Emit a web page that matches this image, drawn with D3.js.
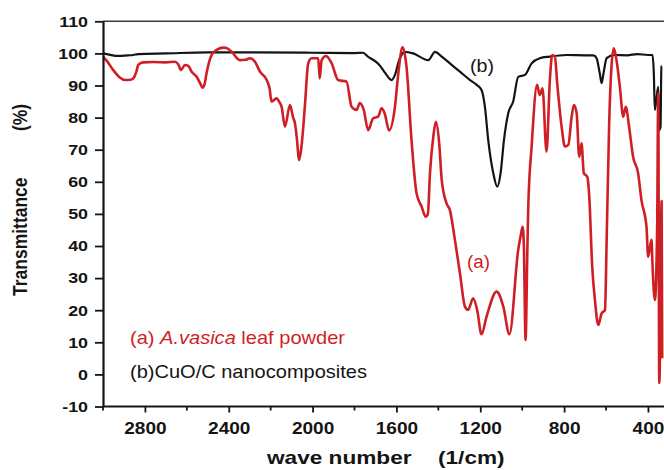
<!DOCTYPE html>
<html>
<head>
<meta charset="utf-8">
<script src="https://cdn.jsdelivr.net/npm/d3@7"></script>
<style>
  html, body { margin: 0; padding: 0; background: #fff; }
  svg { display: block; }
  text { font-family: "Liberation Sans", Arial, sans-serif; }
</style>
</head>
<body>
<svg id="chart" width="664" height="470"></svg>
<script>
// FTIR spectra: wavenumber (1/cm) and transmittance (%)
const leafWave = [3000, 2980, 2951, 2920, 2895, 2870, 2856, 2840, 2832, 2808, 2760, 2700, 2657, 2640, 2628, 2609, 2593, 2577, 2553, 2535, 2525, 2515, 2506, 2482, 2458, 2424, 2405, 2386, 2347, 2320, 2299, 2275, 2251, 2219, 2205, 2196, 2172, 2160, 2148, 2132, 2108, 2092, 2084, 2076, 2064, 2053, 2037, 2021, 2005, 1973, 1966, 1957, 1936, 1909, 1878, 1838, 1814, 1790, 1775, 1756, 1735, 1711, 1687, 1671, 1656, 1635, 1607, 1591, 1571, 1552, 1528, 1504, 1480, 1460, 1450, 1440, 1424, 1412, 1396, 1384, 1361, 1345, 1321, 1297, 1273, 1258, 1234, 1215, 1194, 1170, 1122, 1090, 1061, 1019, 1005, 998, 992, 984, 975, 971, 955, 929, 916, 903, 884, 868, 857, 844, 833, 812, 796, 780, 764, 753, 740, 728, 717, 706, 690, 680, 666, 653, 637, 621, 605, 597, 585, 574, 563, 550, 534, 518, 506, 490, 471, 447, 431, 407, 399, 383, 378, 367, 356, 351, 346, 340, 335, 332];
const leafT = [99.0, 97.5, 94.8, 92.5, 91.7, 91.8, 92.2, 94.5, 96.4, 97.2, 97.3, 97.2, 97.4, 96.5, 94.8, 96.4, 96.1, 94.3, 92.7, 90.5, 89.3, 90.5, 93.8, 99.5, 101.1, 101.8, 101.5, 100.5, 97.9, 98.0, 98.5, 97.4, 94.3, 91.7, 89.0, 85.0, 86.0, 85.0, 83.4, 77.2, 83.9, 79.8, 78.2, 74.1, 66.8, 71.0, 83.4, 96.9, 98.5, 98.5, 92.2, 97.9, 99.2, 96.9, 91.7, 91.2, 83.4, 82.4, 84.5, 82.4, 76.1, 79.8, 80.3, 82.9, 81.3, 76.0, 83.4, 93.8, 101.9, 95.9, 73.0, 56.4, 52.3, 49.1, 50.0, 62.7, 74.1, 78.7, 72.0, 60.6, 53.3, 51.2, 41.9, 31.5, 21.1, 20.1, 23.7, 20.1, 12.5, 18.0, 25.8, 21.1, 12.5, 38.8, 44.0, 46.0, 40.0, 10.7, 40.0, 52.3, 71.0, 90.2, 87.0, 89.1, 69.4, 91.7, 99.5, 99.0, 90.7, 77.2, 71.0, 71.5, 80.3, 83.9, 81.3, 67.8, 72.0, 62.7, 61.6, 55.4, 33.6, 23.2, 15.4, 19.0, 20.1, 41.9, 78.2, 95.9, 101.6, 97.9, 89.6, 80.3, 83.4, 77.2, 67.8, 62.7, 54.3, 46.0, 36.7, 41.9, 33.6, 23.2, 46.0, 87.6, -2.7, 20.0, 54.0, 5.0];

const compositeWave = [3000, 2970, 2928, 2880, 2856, 2832, 2700, 2500, 2300, 2000, 1800, 1759, 1736, 1700, 1679, 1655, 1623, 1607, 1587, 1560, 1520, 1448, 1416, 1384, 1345, 1297, 1249, 1217, 1194, 1178, 1162, 1138, 1119, 1103, 1087, 1066, 1043, 1019, 987, 955, 916, 870, 789, 700, 660, 645, 630, 621, 612, 597, 560, 500, 450, 400, 378, 372, 367, 360, 351, 346, 340, 336, 333];
const compositeT = [100.0, 99.6, 99.2, 99.4, 99.5, 99.8, 100.0, 100.3, 100.3, 100.2, 100.1, 100.2, 99.0, 97.5, 96.2, 94.0, 91.7, 93.3, 97.9, 100.5, 100.0, 97.9, 100.5, 99.0, 96.9, 94.3, 91.7, 90.2, 88.6, 83.4, 73.0, 62.7, 58.5, 62.7, 73.0, 81.5, 85.0, 92.7, 93.3, 96.9, 98.5, 99.0, 99.5, 99.4, 99.4, 98.5, 93.8, 90.7, 93.8, 98.5, 99.5, 99.4, 99.8, 99.5, 99.5, 93.8, 82.4, 85.5, 89.6, 76.1, 77.2, 95.9, 96.0];

const xMajorTicks = [2800, 2400, 2000, 1600, 1200, 800, 400];
const xMinorTicks = [3000, 2600, 2200, 1800, 1400, 1000, 600];
const yTicks = [-10, 0, 10, 20, 30, 40, 50, 60, 70, 80, 90, 100, 110];

const seriesLabels = ["(a)", "(b)"];
const RED = "#cf1f24";
const INK = "#141414";
const FONT_STRETCH = 1.19;

const svg = d3.select("#chart");
const plotLeft = 103, plotRight = 664.3, plotTop = 21.3, plotBottom = 406.5;

const x = d3.scaleLinear().domain([3000, 322]).range([plotLeft, plotRight]);
const y = d3.scaleLinear().domain([-10, 110]).range([plotBottom, plotTop]);

// widen a text element horizontally by a factor, keeping its glyph height
function stretch(sel, factor) {
  sel.each(function () {
    const len = this.getComputedTextLength();
    d3.select(this).attr("textLength", len * factor).attr("lengthAdjust", "spacingAndGlyphs");
  });
}

// top frame line
svg.append("line")
  .attr("x1", plotLeft).attr("x2", 664).attr("y1", plotTop).attr("y2", plotTop)
  .attr("stroke", "#3a3a3a").attr("stroke-width", 1.6);

// curves
const line = d3.line().x(d => x(d[0])).y(d => y(d[1])).curve(d3.curveMonotoneX);
svg.append("path")
  .datum(compositeWave.map((w, i) => [w, compositeT[i]]))
  .attr("fill", "none").attr("stroke", INK).attr("stroke-width", 2.2)
  .attr("stroke-linejoin", "round").attr("d", line);
svg.append("path")
  .datum(leafWave.map((w, i) => [w, leafT[i]]))
  .attr("fill", "none").attr("stroke", RED).attr("stroke-width", 2.6)
  .attr("stroke-linejoin", "round").attr("d", line);

// bottom axis
const xAxis = svg.append("g").attr("transform", `translate(0,${plotBottom})`)
  .call(d3.axisBottom(x).tickValues(xMajorTicks).tickFormat(d => String(d)).tickSize(6).tickSizeOuter(0));
xAxis.select(".domain").attr("stroke", INK).attr("stroke-width", 2.2).attr("d", `M${plotLeft},0H664`);
xAxis.selectAll(".tick line").attr("stroke", INK).attr("stroke-width", 1.8);
xAxis.selectAll(".tick text")
  .attr("y", 27.5).attr("dy", 0)
  .attr("fill", INK).style("font-size", "16px").style("font-weight", "bold")
  .style("font-family", "'Liberation Sans', Arial, sans-serif")
  .call(stretch, FONT_STRETCH);
xAxis.selectAll(".minor").data(xMinorTicks).enter().append("line")
  .attr("class", "minor")
  .attr("x1", d => x(d)).attr("x2", d => x(d)).attr("y1", 0).attr("y2", 4)
  .attr("stroke", INK).attr("stroke-width", 1.8);

// left axis
const yAxis = svg.append("g").attr("transform", `translate(${plotLeft},0)`)
  .call(d3.axisLeft(y).tickValues(yTicks).tickFormat(d => String(d)).tickSize(8).tickPadding(7).tickSizeOuter(0));
yAxis.select(".domain").attr("stroke", INK).attr("stroke-width", 2.2);
yAxis.selectAll(".tick line").attr("stroke", INK).attr("stroke-width", 1.8);
yAxis.selectAll(".tick text")
  .attr("fill", INK).style("font-size", "15px").style("font-weight", "bold")
  .style("font-family", "'Liberation Sans', Arial, sans-serif")
  .call(stretch, FONT_STRETCH);

// axis titles
const xt = svg.append("g").style("font-size", "19px").style("font-weight", "bold").attr("fill", INK);
xt.append("text").attr("x", 267).attr("y", 464).text("wave number").call(stretch, FONT_STRETCH);
xt.append("text").attr("x", 438).attr("y", 464).text("(1/cm)").call(stretch, FONT_STRETCH);

const yt = svg.append("g").style("font-size", "17.5px").style("font-weight", "bold").attr("fill", INK);
yt.append("text").attr("transform", `translate(26.5,296) scale(${FONT_STRETCH},1) rotate(-90)`)
  .text("Transmittance");
yt.append("text").attr("transform", `translate(26.5,131) scale(${FONT_STRETCH},1) rotate(-90)`)
  .text("(%)");

// curve labels
svg.append("text").attr("x", 470).attr("y", 72).attr("fill", INK)
  .style("font-size", "18px").text(seriesLabels[1]).attr("textLength", 24).attr("lengthAdjust", "spacingAndGlyphs");
svg.append("text").attr("x", 467).attr("y", 268).attr("fill", RED)
  .style("font-size", "18px").text(seriesLabels[0]).attr("textLength", 23).attr("lengthAdjust", "spacingAndGlyphs");

// legend text
const la = svg.append("text").attr("x", 130).attr("y", 344).attr("fill", RED).style("font-size", "19px");
la.append("tspan").text("(a) ");
la.append("tspan").style("font-style", "italic").text("A.vasica");
la.append("tspan").text(" leaf powder");
la.attr("textLength", 215).attr("lengthAdjust", "spacingAndGlyphs");

svg.append("text").attr("x", 130).attr("y", 378).attr("fill", INK).style("font-size", "19px")
  .text("(b)CuO/C nanocomposites").attr("textLength", 237).attr("lengthAdjust", "spacingAndGlyphs");
</script>
</body>
</html>
